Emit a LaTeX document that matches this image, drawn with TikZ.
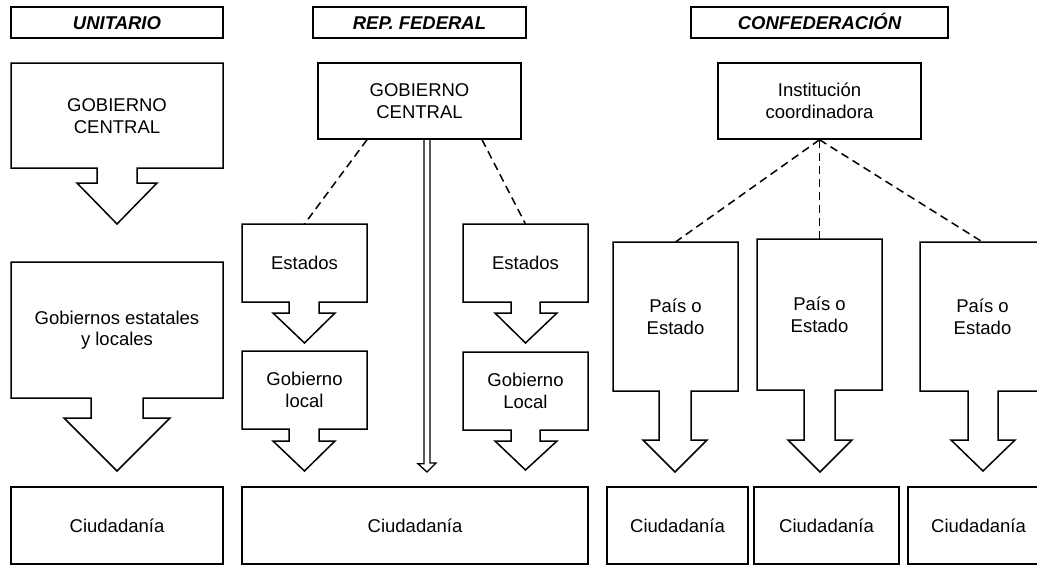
\documentclass[tikz,border=0pt]{standalone}
\usepackage{fontspec}
\setmainfont{Liberation Sans}
\newcommand\letraDiag{\fontsize{18.5}{21.5}\selectfont}
\tikzset{
  borde/.style={line width=1.5pt, line join=miter},
  caja/.style={draw, borde, inner sep=0pt, align=center},
  titulo/.style={caja, minimum height=31, text height=14, text depth=0, font=\letraDiag\bfseries\itshape},
  guion/.style={line width=1.5pt, dash pattern=on 8pt off 5pt}
}
\begin{document}
\begin{tikzpicture}[x=1pt, y=-1pt, font=\letraDiag]
    \useasboundingbox (0,0) rectangle (1037,565);

    % Títulos
    \node (tUni) at (117,22.5) [titulo, minimum width=212] {UNITARIO};
    \node (tFed) at (419.5,22.5) [titulo, minimum width=213] {REP. FEDERAL};
    \node (tConf) at (819.5,22.5) [titulo, minimum width=257] {CONFEDERACIÓN};

    % Unitario
    \draw[borde] (11,63) -- (223,63) -- (223,168) -- (137,168) -- (137,183) -- (157,183) -- (117,224)
        -- (77,183) -- (97,183) -- (97,168) -- (11,168) -- cycle;
    \node (gcU) at (117,116) [align=center] {GOBIERNO\\CENTRAL};
    \draw[borde] (11,262) -- (223,262) -- (223,398) -- (143,398) -- (143,418) -- (170,418) -- (117,471)
        -- (64,418) -- (91,418) -- (91,398) -- (11,398) -- cycle;
    \node (geU) at (117,330) [align=center] {Gobiernos estatales\\y locales};
    \node (ciU) at (117,525.5) [caja, minimum width=212, minimum height=77] {Ciudadanía};

    % Rep. federal
    \node (gcF) at (419.5,101) [caja, minimum width=203, minimum height=76] {GOBIERNO\\CENTRAL};
    \draw[borde] (242,224) -- (367,224) -- (367,302) -- (319,302) -- (319,313) -- (335,313) -- (304.5,343)
        -- (273,313) -- (289,313) -- (289,302) -- (242,302) -- cycle;
    \node (estI) at (304.5,263) {Estados};
    \draw[borde] (242,351) -- (367,351) -- (367,429) -- (319,429) -- (319,441) -- (335,441) -- (304.5,471)
        -- (273,441) -- (289,441) -- (289,429) -- (242,429) -- cycle;
    \node (glI) at (304.5,390) [align=center] {Gobierno\\local};
    \draw[borde] (463,224) -- (588,224) -- (588,302) -- (540,302) -- (540,313) -- (557,313) -- (525.5,343)
        -- (495,313) -- (511,313) -- (511,302) -- (463,302) -- cycle;
    \node (estD) at (525.5,263) {Estados};
    \draw[borde] (463,352) -- (588,352) -- (588,430) -- (540,430) -- (540,441) -- (557,441) -- (525.5,470)
        -- (495,441) -- (511,441) -- (511,430) -- (463,430) -- cycle;
    \node (glD) at (525.5,391) [align=center] {Gobierno\\Local};
    \node (ciF) at (415,525.5) [caja, minimum width=346, minimum height=77] {Ciudadanía};
    \coordinate (topEstI) at (304.5,224);
    \coordinate (topEstD) at (525.5,224);
    \draw[guion] ([xshift=-52.5]gcF.south) -- (topEstI);
    \draw[guion] ([xshift=62.5]gcF.south) -- (topEstD);
    % Flecha doble
    \coordinate (finD) at (427,472);
    \draw[line width=1.3pt] ([xshift=4.5]gcF.south) -- ++(0,324) -- ++(-6,0) -- (finD) -- ++(9,-9)
        -- ++(-6,0) -- ([xshift=10.5]gcF.south);

    % Confederación
    \node (inst) at (819.5,101) [caja, minimum width=203, minimum height=76] {Institución\\coordinadora};
    \draw[borde] (613,242) -- (738,242) -- (738,391) -- (691,391) -- (691,440) -- (707,440) -- (675,472)
        -- (643,440) -- (659,440) -- (659,391) -- (613,391) -- cycle;
    \node (pais1) at (675.5,317) [align=center] {País o\\Estado};
    \draw[borde] (757,239) -- (882,239) -- (882,390) -- (835,390) -- (835,440) -- (852,440) -- (820,472)
        -- (788,440) -- (804,440) -- (804,390) -- (757,390) -- cycle;
    \node (pais2) at (819.5,315) [align=center] {País o\\Estado};
    \draw[borde] (920,242) -- (1045,242) -- (1045,391) -- (998,391) -- (998,440) -- (1015,440) -- (983,471)
        -- (951,440) -- (968,440) -- (968,391) -- (920,391) -- cycle;
    \node (pais3) at (982.5,317) [align=center] {País o\\Estado};
    \coordinate (topP1) at (675.5,242);
    \coordinate (topP2) at (819.5,239);
    \coordinate (topP3) at (982.5,242);
    \draw[guion] (inst.south) -- (topP1);
    \draw[guion] (inst.south) -- (topP2);
    \draw[guion] (inst.south) -- (topP3);
    \node (ci1) at (677.5,525.5) [caja, minimum width=141, minimum height=77] {Ciudadanía};
    \node (ci2) at (826.5,525.5) [caja, minimum width=145, minimum height=77] {Ciudadanía};
    \node (ci3) at (978.5,525.5) [caja, minimum width=141, minimum height=77] {Ciudadanía};
\end{tikzpicture}
\end{document}
